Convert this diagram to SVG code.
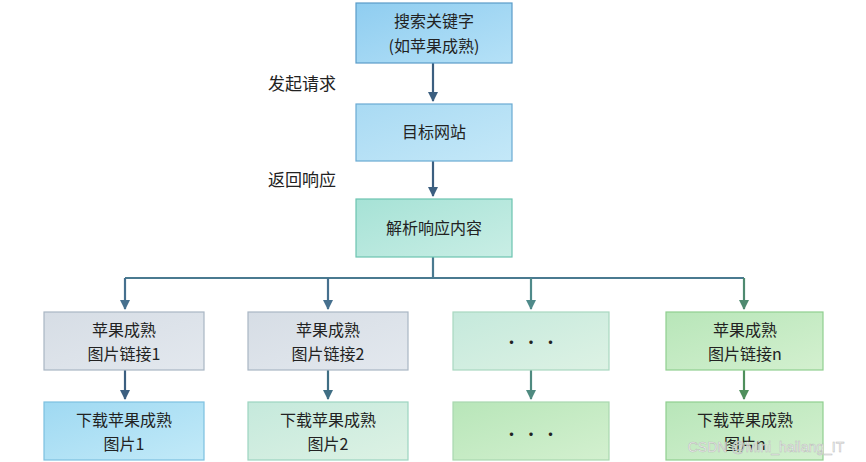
<svg xmlns="http://www.w3.org/2000/svg" width="866" height="462" viewBox="0 0 866 462">
<defs>
<linearGradient id="gBlue" x1="0" y1="0" x2="1" y2="1"><stop offset="0" stop-color="#8fcdf0"/><stop offset="1" stop-color="#b5e1f7"/></linearGradient>
<linearGradient id="gBlue2" x1="0" y1="0" x2="1" y2="1"><stop offset="0" stop-color="#a9daf3"/><stop offset="1" stop-color="#c4e8f8"/></linearGradient>
<linearGradient id="gTeal" x1="0" y1="0" x2="1" y2="1"><stop offset="0" stop-color="#a6e2d6"/><stop offset="1" stop-color="#c9eee5"/></linearGradient>
<linearGradient id="gGray" x1="0" y1="0" x2="1" y2="1"><stop offset="0" stop-color="#d6dde5"/><stop offset="1" stop-color="#e3e8ee"/></linearGradient>
<linearGradient id="gMint" x1="0" y1="0" x2="1" y2="1"><stop offset="0" stop-color="#c5e9dc"/><stop offset="1" stop-color="#ddf2e4"/></linearGradient>
<linearGradient id="gGreen" x1="0" y1="0" x2="1" y2="1"><stop offset="0" stop-color="#b8e6b9"/><stop offset="1" stop-color="#d3f0cf"/></linearGradient>
<linearGradient id="gSky" x1="0" y1="0" x2="1" y2="1"><stop offset="0" stop-color="#9fd9f2"/><stop offset="1" stop-color="#c2eaf8"/></linearGradient>
<marker id="ah" markerWidth="10" markerHeight="10" refX="9" refY="5" orient="auto" markerUnits="userSpaceOnUse"><path d="M0,0 L10,5 L0,10 z" fill="context-stroke"/></marker>
</defs>
<style>
text{font-family:"Noto Sans CJK SC","Liberation Serif",serif;font-size:16px;fill:#222;text-anchor:middle}
.lab{text-anchor:start;font-size:17px}
rect{stroke-width:1.2}
.c{fill:none;stroke-width:2.2}
</style>
<rect width="866" height="462" fill="#fff"/>
<g id="connectors">
<path class="c" stroke="#3c5f80" d="M433,63 V101" marker-end="url(#ah)"/>
<path class="c" stroke="#3c5f80" d="M433,161 V196" marker-end="url(#ah)"/>
<path class="c" stroke="#4a7a90" d="M433,257 V278 M125,278 H744"/>
<path class="c" stroke="#46708e" d="M125,278 V309" marker-end="url(#ah)"/>
<path class="c" stroke="#46708e" d="M328,278 V309" marker-end="url(#ah)"/>
<path class="c" stroke="#4f8a8a" d="M531,278 V309" marker-end="url(#ah)"/>
<path class="c" stroke="#4f8a70" d="M744,278 V309" marker-end="url(#ah)"/>
<path class="c" stroke="#3c5f80" d="M125,370 V399" marker-end="url(#ah)"/>
<path class="c" stroke="#3f6e84" d="M328,370 V399" marker-end="url(#ah)"/>
<path class="c" stroke="#4f8a80" d="M531,370 V399" marker-end="url(#ah)"/>
<path class="c" stroke="#4f8f5c" d="M744,370 V399" marker-end="url(#ah)"/>
</g>
<text class="lab" x="268" y="90">发起请求</text>
<text class="lab" x="268" y="186">返回响应</text>
<g id="n1"><rect x="356" y="3" width="156" height="60" fill="url(#gBlue)" stroke="#5a9cc8"/><text x="434" y="27">搜索关键字</text><text x="434" y="52">(如苹果成熟)</text></g>
<g id="n2"><rect x="356" y="104" width="156" height="57" fill="url(#gBlue2)" stroke="#6aaad2"/><text x="434" y="138">目标网站</text></g>
<g id="n3"><rect x="356" y="199" width="156" height="58" fill="url(#gTeal)" stroke="#6cc4b0"/><text x="434" y="234">解析响应内容</text></g>
<g id="l1"><rect x="44" y="312" width="160" height="58" fill="url(#gGray)" stroke="#a9b6c4"/><text x="124" y="336">苹果成熟</text><text x="124" y="360">图片链接1</text></g>
<g id="l2"><rect x="248" y="312" width="160" height="58" fill="url(#gGray)" stroke="#a9b6c4"/><text x="328" y="336">苹果成熟</text><text x="328" y="360">图片链接2</text></g>
<g id="l3"><rect x="453" y="312" width="156" height="58" fill="url(#gMint)" stroke="#a8d8c0"/><text x="531" y="348">· · ·</text></g>
<g id="l4"><rect x="666" y="312" width="157" height="58" fill="url(#gGreen)" stroke="#8fcf8f"/><text x="745" y="336">苹果成熟</text><text x="745" y="360">图片链接n</text></g>
<g id="d1"><rect x="44" y="402" width="160" height="58" fill="url(#gSky)" stroke="#7cc0e0"/><text x="124" y="426">下载苹果成熟</text><text x="124" y="450">图片1</text></g>
<g id="d2"><rect x="248" y="402" width="160" height="58" fill="url(#gMint)" stroke="#9cd4c0"/><text x="328" y="426">下载苹果成熟</text><text x="328" y="450">图片2</text></g>
<g id="d3"><rect x="453" y="402" width="156" height="58" fill="url(#gGreen)" stroke="#a8d8b0"/><text x="531" y="440">· · ·</text></g>
<g id="d4"><rect x="666" y="402" width="157" height="58" fill="url(#gGreen)" stroke="#8fcf8f"/><text x="745" y="426">下载苹果成熟</text><text x="745" y="450">图片n</text></g>
<text x="766" y="452" style="font-family:'Liberation Sans',sans-serif;font-size:14px;fill:#fff;stroke:#bbb;stroke-width:0.6;opacity:0.9">CSDN @Mini_hailang_IT</text>
</svg>
